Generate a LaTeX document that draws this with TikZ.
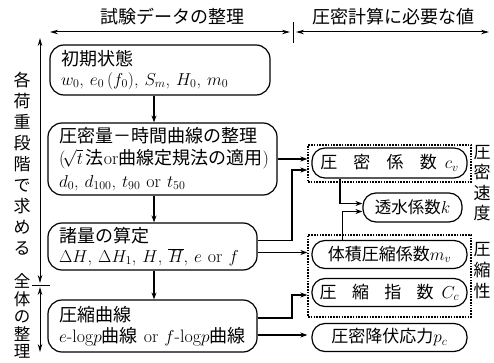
\documentclass[tikz,border=0pt]{standalone}
\usepackage{fontspec}
\newfontfamily\jp{Noto Sans CJK JP}
\newcommand\jtext[1]{{\jp #1}}
\usetikzlibrary{arrows.meta}
\begin{document}
\begin{tikzpicture}[x=1pt,y=-1pt,
  tf/.style={font=\fontsize{18}{21}\selectfont},
  box/.style={draw, line width=1.2pt, rounded corners=14pt, align=left, inner xsep=11pt, inner ysep=0pt, tf},
  pill/.style={draw, line width=1.2pt, rounded corners=13pt, minimum width=155pt, minimum height=28pt, inner xsep=4pt, inner ysep=0pt, font=\fontsize{17}{20}\selectfont},
  grp/.style={draw, line width=1.3pt, dash pattern=on 1.6pt off 1.2pt, minimum width=163pt, inner sep=0pt},
  conn/.style={line width=1.2pt},
  arr/.style={conn, -{Stealth[length=7pt,width=5pt]}},
  darr/.style={line width=1pt, {Stealth[length=8pt,width=4.5pt]}-{Stealth[length=8pt,width=4.5pt]}},
  vtext/.style={align=center, inner sep=0pt, text width=18pt}
]
\useasboundingbox (0,0) rectangle (494,363);
\fill[white] (0,0) rectangle (494,363);

% header
\node[tf] (h1) at (172,17) {\jtext{試験データの整理}};
\node[tf] (h2) at (393,17) {\jtext{圧密計算に必要な値}};
\coordinate (t1) at (50,32);
\coordinate (t2) at (290,32);
\coordinate (t3) at (296,32);
\coordinate (t4) at (489,32);
\coordinate (tk1) at (293,22);
\coordinate (tk2) at (293,43);
\draw[darr] (t1) -- (t2);
\draw[darr] (t3) -- (t4);
\draw[line width=1pt] (tk1) -- (tk2);

% left scale
\coordinate (l1) at (40,38);
\coordinate (l2) at (40,283);
\coordinate (l3) at (40,287);
\coordinate (l4) at (40,352);
\coordinate (lk1) at (32,285);
\coordinate (lk2) at (50,285);
\draw[darr] (l1) -- (l2);
\draw[darr] (l3) -- (l4);
\draw[line width=1pt] (lk1) -- (lk2);
\node[vtext, font=\jp\fontsize{17}{21}\selectfont] (v1) at (22,164) {各\\荷\\重\\段\\階\\で\\求\\め\\る};
\node[vtext, font=\jp\fontsize{16.5}{17.5}\selectfont] (v2) at (22,316) {全\\体\\の\\整\\理};
\node[vtext, font=\jp\fontsize{17}{20.5}\selectfont] (v3) at (482,183) {圧\\密\\速\\度};
\node[vtext, font=\jp\fontsize{17}{21}\selectfont] (v4) at (482,271) {圧\\縮\\性};

% main boxes
\node[box, minimum height=50pt, text width=198pt] (b1) at (160,70)
  {\jtext{初期状態}\\[-1.5pt] $w_0$, $e_0\,(f_0)$, $S_m$, $H_0$, $m_0$};
\node[box, minimum height=72pt, text width=207pt, font=\fontsize{18}{22.5}\selectfont] (b2) at (162.5,159)
  {\jtext{圧密量－時間曲線の整理}\\ (\!\smash{$\sqrt{t}$}\,\jtext{法}or\jtext{曲線定規法の適用})\\ $d_0$, $d_{100}$, $t_{90}$ or $t_{50}$};
\node[box, minimum height=47pt, text width=187pt, font=\fontsize{18}{19.5}\selectfont] (b3) at (152.5,246.5)
  {\jtext{諸量の算定}\\ $\Delta H$, $\Delta H_1$, $H$, $\overline{H}$, $e$ or $f$};
\node[box, minimum height=52pt, text width=187pt] (b4) at (152.5,326)
  {\jtext{圧縮曲線}\\ $e$-log$p$\jtext{曲線} or $f$-log$p$\jtext{曲線}};

\coordinate (ax) at (154,0);
\draw[arr] (b1.south -| ax) -- (b2.north -| ax);
\draw[arr] (b2.south -| ax) -- (b3.north -| ax);
\draw[arr] (b3.south -| ax) -- (b4.north -| ax);

% groups
\node[grp, minimum height=37pt] (d1) at (389.5,163.5) {};
\node[grp, minimum height=82pt] (d2) at (389.5,276) {};

% result pills
\node[pill, minimum height=30pt] (cv) at (389.5,163) {\jtext{圧}\hspace{0.95em}\jtext{密}\hspace{0.95em}\jtext{係}\hspace{0.95em}\jtext{数}\, $c_v$};
\node[pill, minimum width=99pt, minimum height=29pt, font=\fontsize{16.5}{20}\selectfont] (k) at (412.5,207.5) {\jtext{透水係数}$k$};
\node[pill] (mv) at (389.5,254.5) {\jtext{体積圧縮係数}$m_v$};
\node[pill] (cc) at (389.5,292.5) {\jtext{圧}\hspace{0.9em}\jtext{縮}\hspace{0.9em}\jtext{指}\hspace{0.9em}\jtext{数}\, $C_c$};
\node[pill] (pc) at (389.5,337.5) {\jtext{圧密降伏応力}$p_c$};

% connectors
\coordinate (j1) at (292,170);
\coordinate (j2) at (292,295);
\draw[arr] (b2.east) -- (b2.east -| d1.west);
\draw[arr] ([yshift=6pt]b3.east) -| (j1) -- (j1 -| d1.west);
\draw[arr] ([yshift=-6pt]b3.east) -- ([yshift=-6pt]b3.east -| d2.west);
\draw[arr] ([yshift=8pt]b4.east) -| (j2) -- (j2 -| d2.west);
\draw[arr] ([yshift=-9pt]b4.east) -- ([yshift=-9pt]b4.east -| d2.west);
\draw[arr] ([xshift=-49.5pt]cv.south) |- ([yshift=4pt]k.west);
\draw[arr] ([xshift=-47pt]mv.north) |- ([yshift=-4pt]k.west);
\end{tikzpicture}
\end{document}
